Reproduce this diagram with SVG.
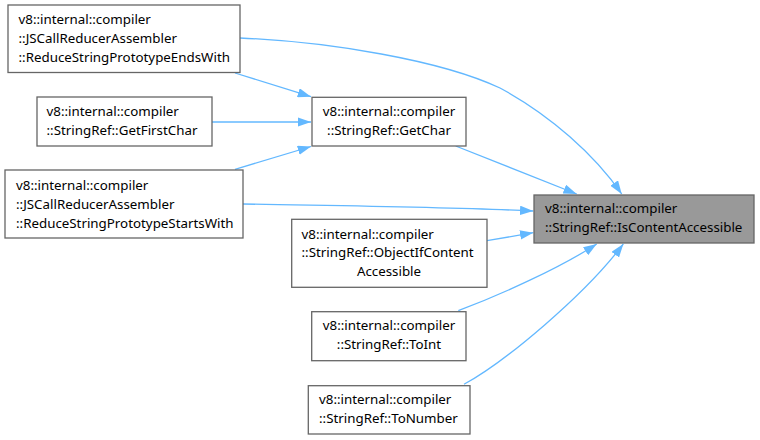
<svg xmlns="http://www.w3.org/2000/svg" width="760" height="440" viewBox="0 0 760 440">
<style>
.box{fill:#ffffff;stroke:#666666;stroke-width:1.3}
.hl{fill:#999999;stroke:#666666;stroke-width:1.3}
text{font-family:"Noto Sans","Open Sans","DejaVu Sans",sans-serif;font-size:13.33px;fill:#000000}
.m{text-anchor:middle}
.e{fill:none;stroke:#63b8ff;stroke-width:1.3;marker-end:url(#ah)}
</style>
<defs>
<marker id="ah" viewBox="0 0 13.3 9.4" refX="13.3" refY="4.7" markerWidth="13.3" markerHeight="9.4" markerUnits="userSpaceOnUse" orient="auto">
<path d="M0,0 L13.3,4.7 L0,9.4 z" fill="#63b8ff"/>
</marker>
</defs>
<rect width="760" height="440" fill="#ffffff"/>
<g id="edges">
<path class="e" d="M240,38 C330,42 440,60 500,88 C550,115 595,155 621.7,194"/>
<path class="e" d="M235,73 L311,96.7"/>
<path class="e" d="M212,122 L311,122"/>
<path class="e" d="M235,169.3 L311,146.5"/>
<path class="e" d="M455.7,146 L576.7,194"/>
<path class="e" d="M243,204 C350,206 450,207 533.3,211"/>
<path class="e" d="M487,240.7 L533.3,232.7"/>
<path class="e" d="M458.3,310.7 C500,295 560,268 596.7,244"/>
<path class="e" d="M464,384.3 C505,362 585,295 623.3,244"/>
</g>
<g id="n_target">
<rect class="hl" x="534" y="195" width="220" height="48"/>
<text x="545" y="212.5">v8::internal::compiler</text>
<text x="545" y="231.5">::StringRef::IsContentAccessible</text>
</g>
<g id="n_endswith">
<rect class="box" x="8" y="5" width="232" height="67.5"/>
<text x="18.5" y="23.5">v8::internal::compiler</text>
<text x="18.5" y="42.5">::JSCallReducerAssembler</text>
<text x="18.5" y="61.5">::ReduceStringPrototypeEndsWith</text>
</g>
<g id="n_getfirstchar">
<rect class="box" x="37" y="97" width="175" height="49"/>
<text x="46.5" y="115.5">v8::internal::compiler</text>
<text x="46.5" y="134.5">::StringRef::GetFirstChar</text>
</g>
<g id="n_getchar">
<rect class="box" x="312" y="97.3" width="154" height="48.7"/>
<text class="m" x="389" y="115.5">v8::internal::compiler</text>
<text class="m" x="389" y="134.5">::StringRef::GetChar</text>
</g>
<g id="n_startswith">
<rect class="box" x="5" y="170" width="238" height="68"/>
<text x="16" y="189.5">v8::internal::compiler</text>
<text x="16" y="208.5">::JSCallReducerAssembler</text>
<text x="16" y="227.5">::ReduceStringPrototypeStartsWith</text>
</g>
<g id="n_objectif">
<rect class="box" x="291.7" y="219.3" width="195.3" height="68"/>
<text x="301.5" y="238.5">v8::internal::compiler</text>
<text x="301.5" y="257.3">::StringRef::ObjectIfContent</text>
<text class="m" x="389" y="276">Accessible</text>
</g>
<g id="n_toint">
<rect class="box" x="311.7" y="311.7" width="154.3" height="49"/>
<text class="m" x="389" y="330.3">v8::internal::compiler</text>
<text class="m" x="389" y="349">::StringRef::ToInt</text>
</g>
<g id="n_tonumber">
<rect class="box" x="308.3" y="385.7" width="161.7" height="48.3"/>
<text x="319" y="403.8">v8::internal::compiler</text>
<text x="319" y="422.5">::StringRef::ToNumber</text>
</g>
</svg>
